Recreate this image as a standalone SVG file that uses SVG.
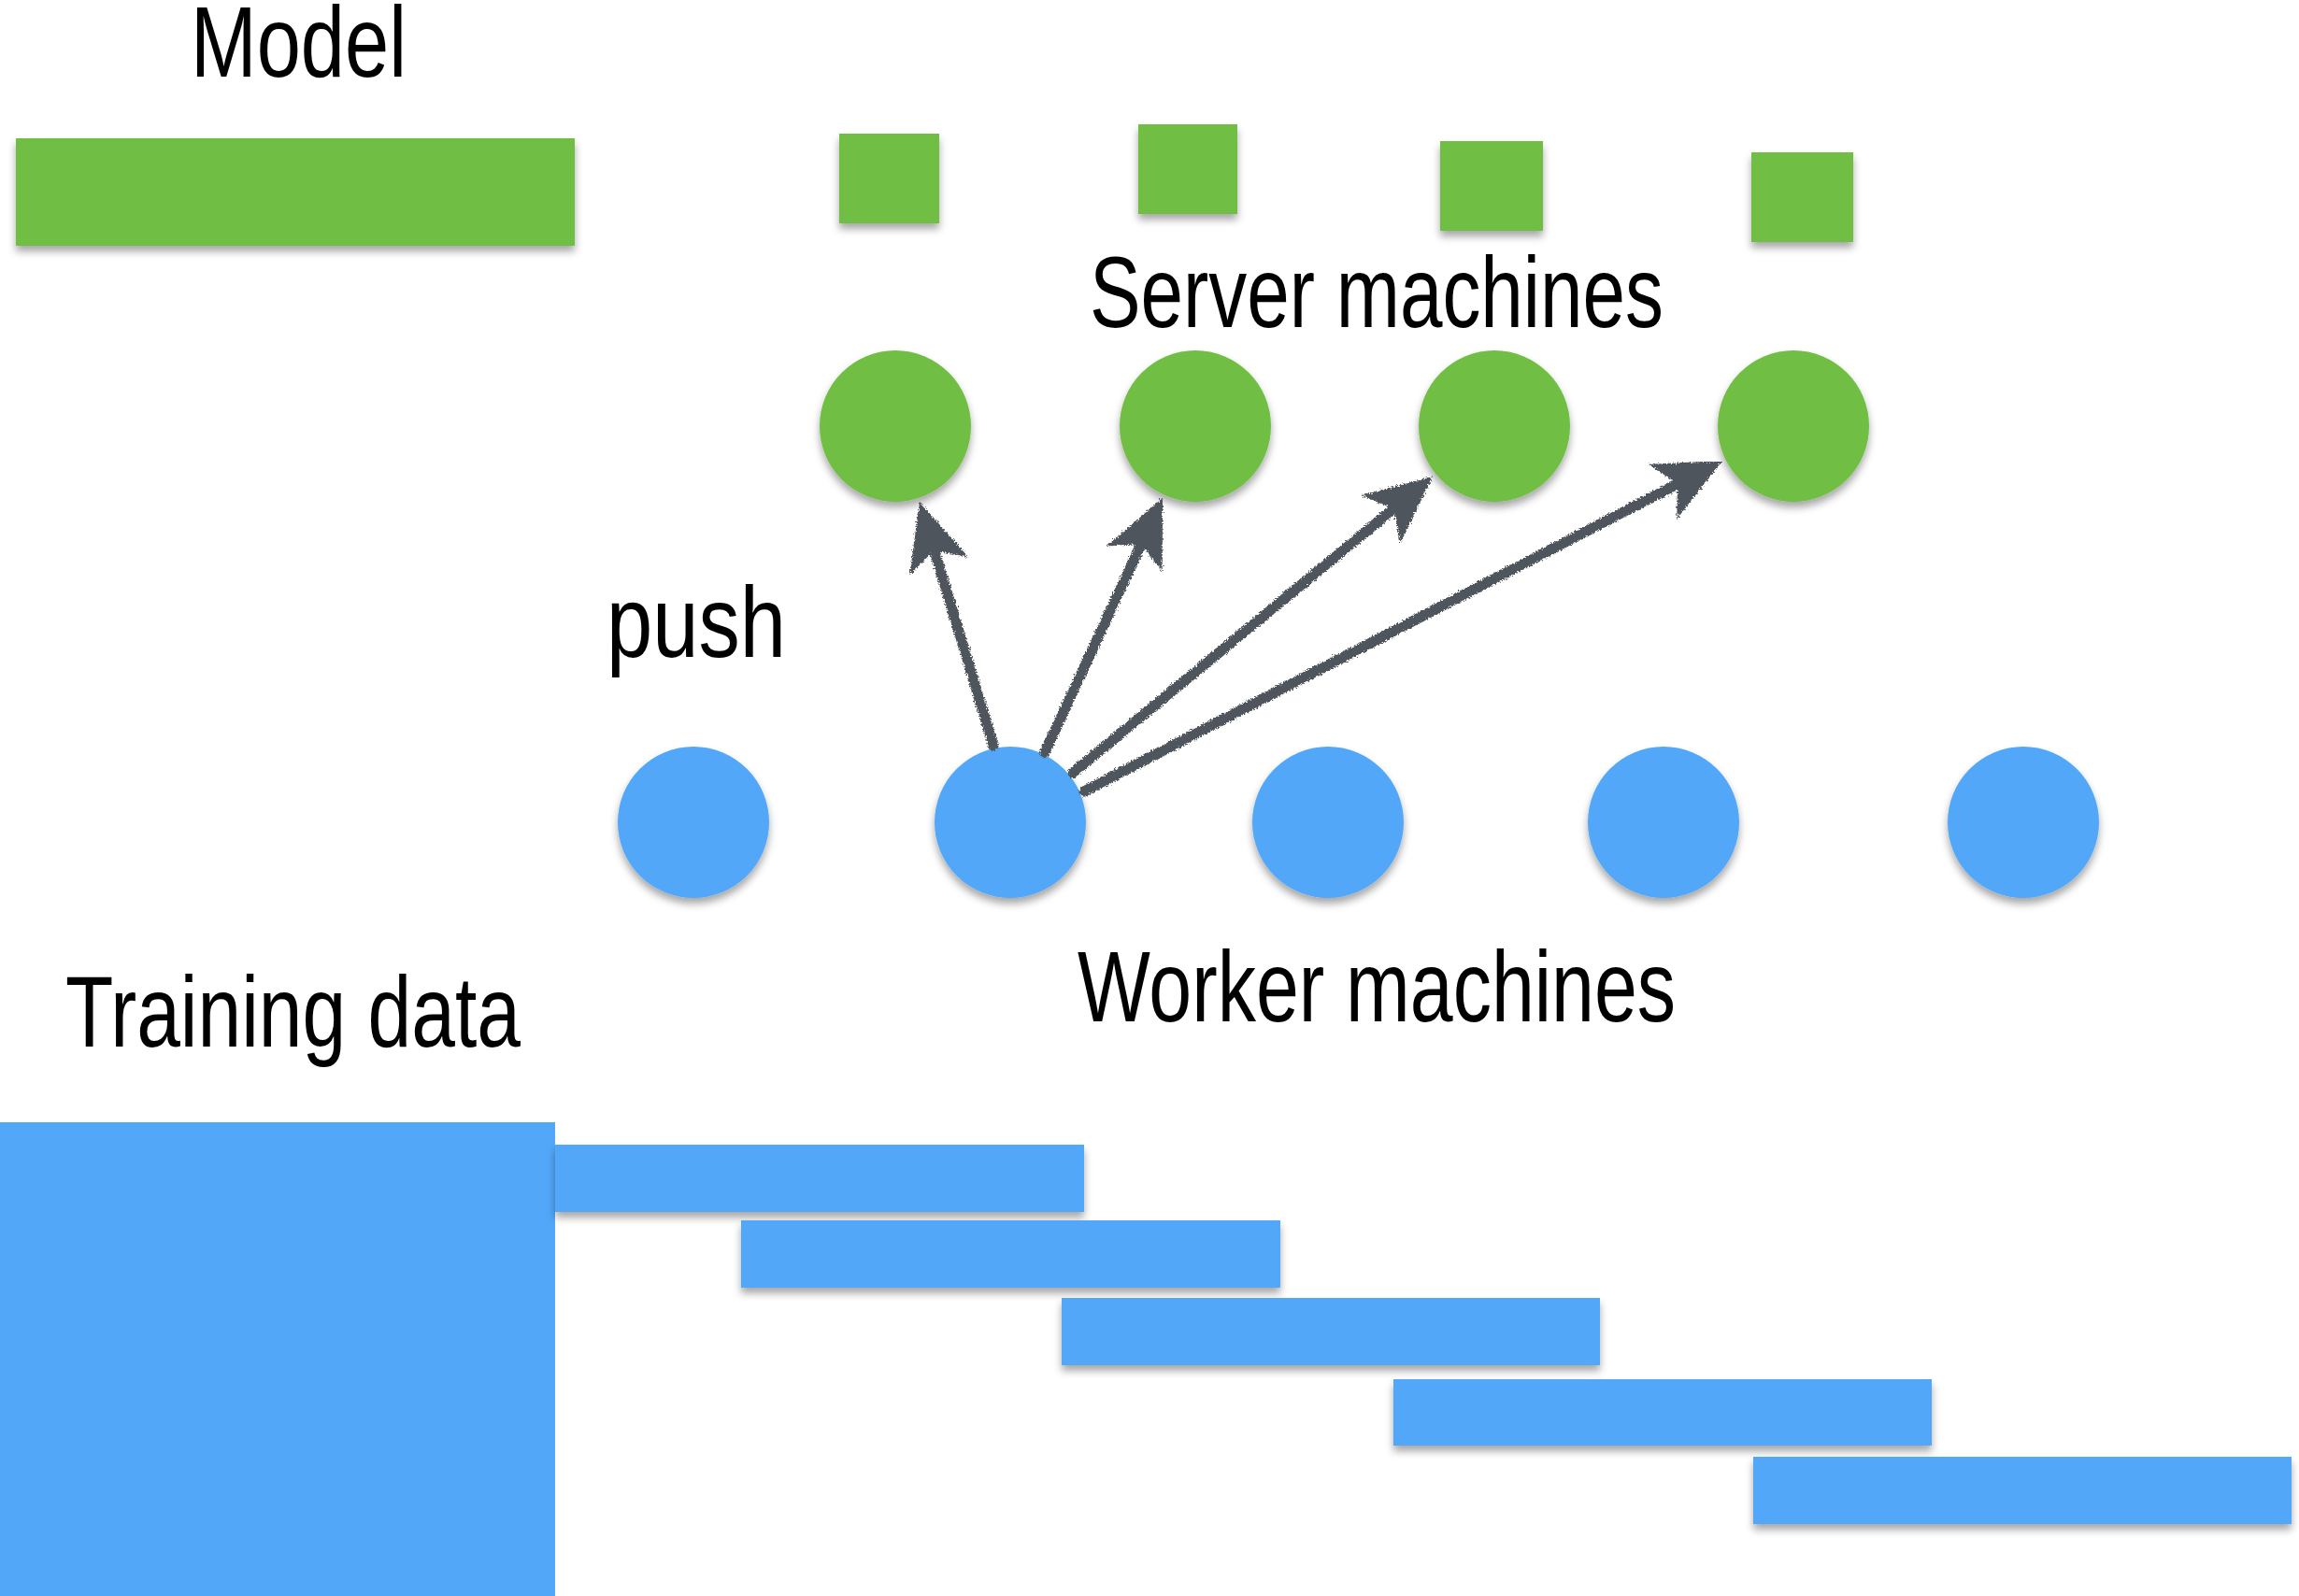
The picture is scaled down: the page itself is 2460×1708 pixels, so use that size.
<svg xmlns="http://www.w3.org/2000/svg" width="2460" height="1708" viewBox="0 0 2460 1708">
<style>
.g{fill:#71be44}
.b{fill:#52a7f8}
.t{font-family:"Liberation Sans","Noto Sans",sans-serif;font-size:108px;fill:#000}
.c{stroke:#50545b;stroke-width:11;fill:none;stroke-linecap:round}
</style>
<defs>
<filter id="sh" x="-10%" y="-10%" width="120%" height="130%">
<feDropShadow dx="0" dy="6" stdDeviation="4" flood-color="#000" flood-opacity="0.35"/>
</filter>
<filter id="rough" x="-5%" y="-5%" width="110%" height="110%">
<feTurbulence type="fractalNoise" baseFrequency="0.6" numOctaves="2" seed="3" result="n"/>
<feDisplacementMap in="SourceGraphic" in2="n" scale="6" xChannelSelector="R" yChannelSelector="G"/>
</filter>
<marker id="ah" markerUnits="userSpaceOnUse" viewBox="-40 -40 90 80" markerWidth="90" markerHeight="80" refX="0" refY="0" orient="auto">
<path d="M40,0 L-32,-33 L-14,0 L-32,33 Z" fill="#50545b"/>
</marker>
</defs>
<rect width="2460" height="1708" fill="#fff"/>

<g id="model-label"><text class="t" x="204" y="82" textLength="231" lengthAdjust="spacingAndGlyphs">Model</text></g>
<g id="model"><rect class="g" filter="url(#sh)" x="17" y="148" width="598" height="115"/></g>
<g id="param1"><rect class="g" filter="url(#sh)" x="898" y="143" width="107" height="96"/></g>
<g id="param2"><rect class="g" filter="url(#sh)" x="1218" y="133" width="106" height="96"/></g>
<g id="param3"><rect class="g" filter="url(#sh)" x="1541" y="151" width="110" height="96"/></g>
<g id="param4"><rect class="g" filter="url(#sh)" x="1874" y="163" width="109" height="96"/></g>

<g id="server-label"><text class="t" x="1166" y="350" textLength="614" lengthAdjust="spacingAndGlyphs">Server machines</text></g>
<g id="server1"><circle class="g" filter="url(#sh)" cx="958" cy="456" r="81"/></g>
<g id="server2"><circle class="g" filter="url(#sh)" cx="1279" cy="456" r="81"/></g>
<g id="server3"><circle class="g" filter="url(#sh)" cx="1599" cy="456" r="81"/></g>
<g id="server4"><circle class="g" filter="url(#sh)" cx="1919" cy="456" r="81"/></g>

<g id="push-label"><text class="t" x="649" y="703" textLength="192" lengthAdjust="spacingAndGlyphs">push</text></g>

<g id="worker1"><circle class="b" filter="url(#sh)" cx="742" cy="880" r="81"/></g>
<g id="worker2"><circle class="b" filter="url(#sh)" cx="1081" cy="880" r="81"/></g>
<g id="worker3"><circle class="b" filter="url(#sh)" cx="1421" cy="880" r="81"/></g>
<g id="worker4"><circle class="b" filter="url(#sh)" cx="1780" cy="880" r="81"/></g>
<g id="worker5"><circle class="b" filter="url(#sh)" cx="2165" cy="880" r="81"/></g>

<g id="connectors" filter="url(#rough)">
<line class="c" x1="1063" y1="798" x2="995.6" y2="575.3" marker-end="url(#ah)"/>
<line class="c" x1="1118" y1="805" x2="1227.2" y2="569.3" marker-end="url(#ah)"/>
<line class="c" x1="1148" y1="827" x2="1502.1" y2="535.4" marker-end="url(#ah)"/>
<line class="c" x1="1160" y1="847" x2="1807.5" y2="511.4" marker-end="url(#ah)"/>
</g>

<g id="worker-label"><text class="t" x="1153" y="1093" textLength="640" lengthAdjust="spacingAndGlyphs">Worker machines</text></g>
<g id="training-label"><text class="t" x="70" y="1120" textLength="487" lengthAdjust="spacingAndGlyphs">Training data</text></g>

<g id="training-data"><rect class="b" x="0" y="1201" width="594" height="507"/></g>
<g id="shard1"><rect class="b" filter="url(#sh)" x="594" y="1225" width="566" height="72"/></g>
<g id="shard2"><rect class="b" filter="url(#sh)" x="793" y="1306" width="577" height="72"/></g>
<g id="shard3"><rect class="b" filter="url(#sh)" x="1136" y="1389" width="576" height="72"/></g>
<g id="shard4"><rect class="b" filter="url(#sh)" x="1491" y="1476" width="576" height="71"/></g>
<g id="shard5"><rect class="b" filter="url(#sh)" x="1876" y="1559" width="576" height="72"/></g>
</svg>
